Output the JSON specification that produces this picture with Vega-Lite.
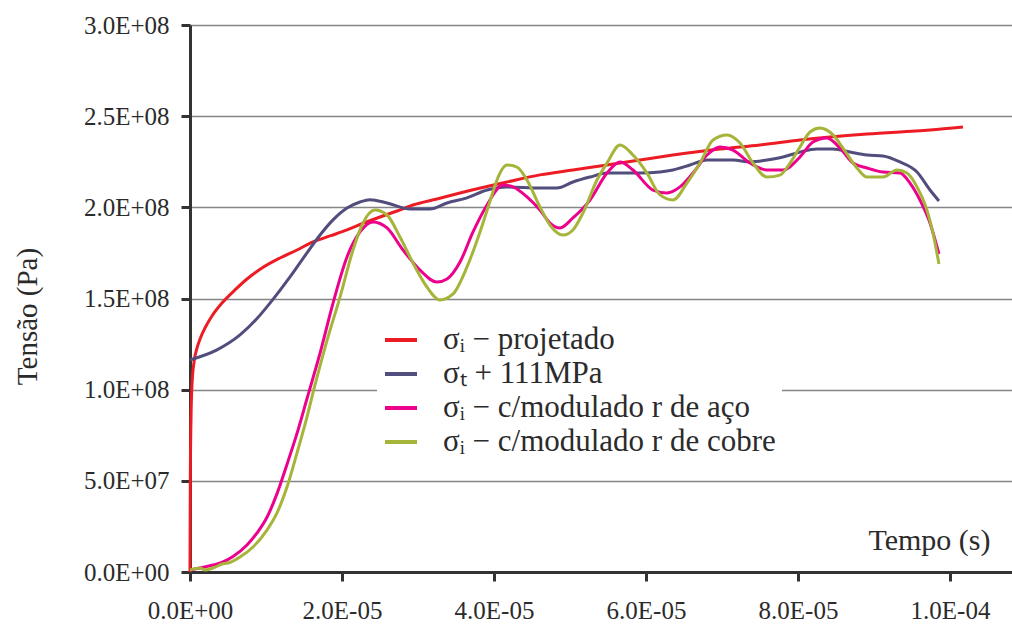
{
  "$schema": "https://vega.github.io/schema/vega-lite/v6.json",
  "width": 822,
  "height": 547,
  "autosize": {"type": "none"},
  "padding": {"left": 190, "top": 25, "right": 0, "bottom": 52},
  "background": "white",
  "config": {"view": {"stroke": null}, "font": "Liberation Serif"},
  "data": {
    "values": [
      {"serie": "projetado", "t": 0, "s": 0},
      {"serie": "projetado", "t": 0.004e-5, "s": 0.505e8},
      {"serie": "projetado", "t": 0.013e-5, "s": 0.834e8},
      {"serie": "projetado", "t": 0.026e-5, "s": 1.026e8},
      {"serie": "projetado", "t": 0.053e-5, "s": 1.152e8},
      {"serie": "projetado", "t": 0.092e-5, "s": 1.228e8},
      {"serie": "projetado", "t": 0.132e-5, "s": 1.278e8},
      {"serie": "projetado", "t": 0.197e-5, "s": 1.338e8},
      {"serie": "projetado", "t": 0.289e-5, "s": 1.404e8},
      {"serie": "projetado", "t": 0.421e-5, "s": 1.475e8},
      {"serie": "projetado", "t": 0.592e-5, "s": 1.547e8},
      {"serie": "projetado", "t": 0.75e-5, "s": 1.607e8},
      {"serie": "projetado", "t": 0.947e-5, "s": 1.667e8},
      {"serie": "projetado", "t": 1.184e-5, "s": 1.722e8},
      {"serie": "projetado", "t": 1.408e-5, "s": 1.766e8},
      {"serie": "projetado", "t": 1.618e-5, "s": 1.81e8},
      {"serie": "projetado", "t": 1.842e-5, "s": 1.843e8},
      {"serie": "projetado", "t": 2.066e-5, "s": 1.876e8},
      {"serie": "projetado", "t": 2.289e-5, "s": 1.914e8},
      {"serie": "projetado", "t": 2.5e-5, "s": 1.947e8},
      {"serie": "projetado", "t": 2.724e-5, "s": 1.98e8},
      {"serie": "projetado", "t": 2.934e-5, "s": 2.013e8},
      {"serie": "projetado", "t": 3.25e-5, "s": 2.046e8},
      {"serie": "projetado", "t": 3.553e-5, "s": 2.079e8},
      {"serie": "projetado", "t": 4.171e-5, "s": 2.139e8},
      {"serie": "projetado", "t": 4.605e-5, "s": 2.178e8},
      {"serie": "projetado", "t": 5.039e-5, "s": 2.205e8},
      {"serie": "projetado", "t": 5.487e-5, "s": 2.232e8},
      {"serie": "projetado", "t": 5.921e-5, "s": 2.26e8},
      {"serie": "projetado", "t": 6.355e-5, "s": 2.287e8},
      {"serie": "projetado", "t": 6.974e-5, "s": 2.32e8},
      {"serie": "projetado", "t": 7.5e-5, "s": 2.342e8},
      {"serie": "projetado", "t": 8.026e-5, "s": 2.369e8},
      {"serie": "projetado", "t": 8.908e-5, "s": 2.402e8},
      {"serie": "projetado", "t": 9.737e-5, "s": 2.424e8},
      {"serie": "projetado", "t": 10.171e-5, "s": 2.441e8},

      {"serie": "sigma_t", "t": 0, "s": 1.163e8},
      {"serie": "sigma_t", "t": 0.355e-5, "s": 1.218e8},
      {"serie": "sigma_t", "t": 0.658e-5, "s": 1.3e8},
      {"serie": "sigma_t", "t": 0.882e-5, "s": 1.39e8},
      {"serie": "sigma_t", "t": 1.092e-5, "s": 1.495e8},
      {"serie": "sigma_t", "t": 1.316e-5, "s": 1.618e8},
      {"serie": "sigma_t", "t": 1.539e-5, "s": 1.75e8},
      {"serie": "sigma_t", "t": 1.711e-5, "s": 1.848e8},
      {"serie": "sigma_t", "t": 1.882e-5, "s": 1.931e8},
      {"serie": "sigma_t", "t": 2.066e-5, "s": 1.996e8},
      {"serie": "sigma_t", "t": 2.237e-5, "s": 2.029e8},
      {"serie": "sigma_t", "t": 2.368e-5, "s": 2.042e8},
      {"serie": "sigma_t", "t": 2.592e-5, "s": 2.024e8},
      {"serie": "sigma_t", "t": 2.895e-5, "s": 1.991e8},
      {"serie": "sigma_t", "t": 3.158e-5, "s": 1.991e8},
      {"serie": "sigma_t", "t": 3.382e-5, "s": 2.024e8},
      {"serie": "sigma_t", "t": 3.645e-5, "s": 2.052e8},
      {"serie": "sigma_t", "t": 3.908e-5, "s": 2.095e8},
      {"serie": "sigma_t", "t": 4.171e-5, "s": 2.112e8},
      {"serie": "sigma_t", "t": 4.605e-5, "s": 2.106e8},
      {"serie": "sigma_t", "t": 4.829e-5, "s": 2.106e8},
      {"serie": "sigma_t", "t": 5.039e-5, "s": 2.139e8},
      {"serie": "sigma_t", "t": 5.263e-5, "s": 2.166e8},
      {"serie": "sigma_t", "t": 5.487e-5, "s": 2.188e8},
      {"serie": "sigma_t", "t": 5.921e-5, "s": 2.188e8},
      {"serie": "sigma_t", "t": 6.184e-5, "s": 2.194e8},
      {"serie": "sigma_t", "t": 6.355e-5, "s": 2.205e8},
      {"serie": "sigma_t", "t": 6.579e-5, "s": 2.232e8},
      {"serie": "sigma_t", "t": 6.803e-5, "s": 2.26e8},
      {"serie": "sigma_t", "t": 7.145e-5, "s": 2.26e8},
      {"serie": "sigma_t", "t": 7.368e-5, "s": 2.249e8},
      {"serie": "sigma_t", "t": 7.592e-5, "s": 2.26e8},
      {"serie": "sigma_t", "t": 7.803e-5, "s": 2.276e8},
      {"serie": "sigma_t", "t": 8.026e-5, "s": 2.303e8},
      {"serie": "sigma_t", "t": 8.25e-5, "s": 2.32e8},
      {"serie": "sigma_t", "t": 8.461e-5, "s": 2.32e8},
      {"serie": "sigma_t", "t": 8.684e-5, "s": 2.303e8},
      {"serie": "sigma_t", "t": 8.908e-5, "s": 2.287e8},
      {"serie": "sigma_t", "t": 9.118e-5, "s": 2.282e8},
      {"serie": "sigma_t", "t": 9.342e-5, "s": 2.249e8},
      {"serie": "sigma_t", "t": 9.566e-5, "s": 2.194e8},
      {"serie": "sigma_t", "t": 9.737e-5, "s": 2.095e8},
      {"serie": "sigma_t", "t": 9.855e-5, "s": 2.035e8},

      {"serie": "aco", "t": 0, "s": 0.011e8},
      {"serie": "aco", "t": 0.132e-5, "s": 0.022e8},
      {"serie": "aco", "t": 0.303e-5, "s": 0.038e8},
      {"serie": "aco", "t": 0.434e-5, "s": 0.055e8},
      {"serie": "aco", "t": 0.566e-5, "s": 0.085e8},
      {"serie": "aco", "t": 0.75e-5, "s": 0.148e8},
      {"serie": "aco", "t": 0.882e-5, "s": 0.214e8},
      {"serie": "aco", "t": 1.013e-5, "s": 0.3e8},
      {"serie": "aco", "t": 1.145e-5, "s": 0.43e8},
      {"serie": "aco", "t": 1.276e-5, "s": 0.59e8},
      {"serie": "aco", "t": 1.408e-5, "s": 0.76e8},
      {"serie": "aco", "t": 1.539e-5, "s": 0.95e8},
      {"serie": "aco", "t": 1.711e-5, "s": 1.2e8},
      {"serie": "aco", "t": 1.882e-5, "s": 1.475e8},
      {"serie": "aco", "t": 2.066e-5, "s": 1.728e8},
      {"serie": "aco", "t": 2.237e-5, "s": 1.865e8},
      {"serie": "aco", "t": 2.408e-5, "s": 1.92e8},
      {"serie": "aco", "t": 2.592e-5, "s": 1.887e8},
      {"serie": "aco", "t": 2.803e-5, "s": 1.766e8},
      {"serie": "aco", "t": 3.026e-5, "s": 1.656e8},
      {"serie": "aco", "t": 3.25e-5, "s": 1.59e8},
      {"serie": "aco", "t": 3.382e-5, "s": 1.607e8},
      {"serie": "aco", "t": 3.553e-5, "s": 1.7e8},
      {"serie": "aco", "t": 3.724e-5, "s": 1.865e8},
      {"serie": "aco", "t": 3.908e-5, "s": 2.013e8},
      {"serie": "aco", "t": 4.118e-5, "s": 2.122e8},
      {"serie": "aco", "t": 4.25e-5, "s": 2.112e8},
      {"serie": "aco", "t": 4.434e-5, "s": 2.057e8},
      {"serie": "aco", "t": 4.605e-5, "s": 1.985e8},
      {"serie": "aco", "t": 4.737e-5, "s": 1.914e8},
      {"serie": "aco", "t": 4.868e-5, "s": 1.887e8},
      {"serie": "aco", "t": 5.039e-5, "s": 1.942e8},
      {"serie": "aco", "t": 5.263e-5, "s": 2.04e8},
      {"serie": "aco", "t": 5.487e-5, "s": 2.188e8},
      {"serie": "aco", "t": 5.658e-5, "s": 2.249e8},
      {"serie": "aco", "t": 5.829e-5, "s": 2.205e8},
      {"serie": "aco", "t": 6.092e-5, "s": 2.095e8},
      {"serie": "aco", "t": 6.276e-5, "s": 2.079e8},
      {"serie": "aco", "t": 6.447e-5, "s": 2.112e8},
      {"serie": "aco", "t": 6.618e-5, "s": 2.188e8},
      {"serie": "aco", "t": 6.803e-5, "s": 2.287e8},
      {"serie": "aco", "t": 6.974e-5, "s": 2.331e8},
      {"serie": "aco", "t": 7.145e-5, "s": 2.314e8},
      {"serie": "aco", "t": 7.368e-5, "s": 2.243e8},
      {"serie": "aco", "t": 7.592e-5, "s": 2.205e8},
      {"serie": "aco", "t": 7.803e-5, "s": 2.205e8},
      {"serie": "aco", "t": 8.026e-5, "s": 2.276e8},
      {"serie": "aco", "t": 8.197e-5, "s": 2.358e8},
      {"serie": "aco", "t": 8.382e-5, "s": 2.38e8},
      {"serie": "aco", "t": 8.553e-5, "s": 2.325e8},
      {"serie": "aco", "t": 8.724e-5, "s": 2.243e8},
      {"serie": "aco", "t": 8.908e-5, "s": 2.216e8},
      {"serie": "aco", "t": 9.118e-5, "s": 2.194e8},
      {"serie": "aco", "t": 9.342e-5, "s": 2.188e8},
      {"serie": "aco", "t": 9.474e-5, "s": 2.133e8},
      {"serie": "aco", "t": 9.605e-5, "s": 2.04e8},
      {"serie": "aco", "t": 9.737e-5, "s": 1.914e8},
      {"serie": "aco", "t": 9.855e-5, "s": 1.744e8},

      {"serie": "cobre", "t": 0, "s": 0.011e8},
      {"serie": "cobre", "t": 0.132e-5, "s": 0.022e8},
      {"serie": "cobre", "t": 0.197e-5, "s": 0.011e8},
      {"serie": "cobre", "t": 0.303e-5, "s": 0.022e8},
      {"serie": "cobre", "t": 0.434e-5, "s": 0.045e8},
      {"serie": "cobre", "t": 0.526e-5, "s": 0.052e8},
      {"serie": "cobre", "t": 0.658e-5, "s": 0.082e8},
      {"serie": "cobre", "t": 0.829e-5, "s": 0.137e8},
      {"serie": "cobre", "t": 1.013e-5, "s": 0.23e8},
      {"serie": "cobre", "t": 1.145e-5, "s": 0.324e8},
      {"serie": "cobre", "t": 1.276e-5, "s": 0.466e8},
      {"serie": "cobre", "t": 1.408e-5, "s": 0.653e8},
      {"serie": "cobre", "t": 1.539e-5, "s": 0.85e8},
      {"serie": "cobre", "t": 1.645e-5, "s": 1.026e8},
      {"serie": "cobre", "t": 1.803e-5, "s": 1.27e8},
      {"serie": "cobre", "t": 1.974e-5, "s": 1.508e8},
      {"serie": "cobre", "t": 2.145e-5, "s": 1.766e8},
      {"serie": "cobre", "t": 2.276e-5, "s": 1.914e8},
      {"serie": "cobre", "t": 2.434e-5, "s": 1.985e8},
      {"serie": "cobre", "t": 2.592e-5, "s": 1.958e8},
      {"serie": "cobre", "t": 2.763e-5, "s": 1.837e8},
      {"serie": "cobre", "t": 2.934e-5, "s": 1.695e8},
      {"serie": "cobre", "t": 3.118e-5, "s": 1.563e8},
      {"serie": "cobre", "t": 3.289e-5, "s": 1.492e8},
      {"serie": "cobre", "t": 3.461e-5, "s": 1.525e8},
      {"serie": "cobre", "t": 3.645e-5, "s": 1.673e8},
      {"serie": "cobre", "t": 3.816e-5, "s": 1.865e8},
      {"serie": "cobre", "t": 3.974e-5, "s": 2.068e8},
      {"serie": "cobre", "t": 4.039e-5, "s": 2.15e8},
      {"serie": "cobre", "t": 4.171e-5, "s": 2.232e8},
      {"serie": "cobre", "t": 4.303e-5, "s": 2.221e8},
      {"serie": "cobre", "t": 4.434e-5, "s": 2.15e8},
      {"serie": "cobre", "t": 4.605e-5, "s": 2.002e8},
      {"serie": "cobre", "t": 4.737e-5, "s": 1.903e8},
      {"serie": "cobre", "t": 4.908e-5, "s": 1.848e8},
      {"serie": "cobre", "t": 5.039e-5, "s": 1.876e8},
      {"serie": "cobre", "t": 5.171e-5, "s": 1.969e8},
      {"serie": "cobre", "t": 5.355e-5, "s": 2.15e8},
      {"serie": "cobre", "t": 5.487e-5, "s": 2.243e8},
      {"serie": "cobre", "t": 5.658e-5, "s": 2.342e8},
      {"serie": "cobre", "t": 5.829e-5, "s": 2.287e8},
      {"serie": "cobre", "t": 6.013e-5, "s": 2.188e8},
      {"serie": "cobre", "t": 6.184e-5, "s": 2.068e8},
      {"serie": "cobre", "t": 6.355e-5, "s": 2.04e8},
      {"serie": "cobre", "t": 6.539e-5, "s": 2.133e8},
      {"serie": "cobre", "t": 6.711e-5, "s": 2.243e8},
      {"serie": "cobre", "t": 6.882e-5, "s": 2.369e8},
      {"serie": "cobre", "t": 7.066e-5, "s": 2.397e8},
      {"serie": "cobre", "t": 7.237e-5, "s": 2.353e8},
      {"serie": "cobre", "t": 7.408e-5, "s": 2.243e8},
      {"serie": "cobre", "t": 7.592e-5, "s": 2.166e8},
      {"serie": "cobre", "t": 7.763e-5, "s": 2.177e8},
      {"serie": "cobre", "t": 7.895e-5, "s": 2.243e8},
      {"serie": "cobre", "t": 8.026e-5, "s": 2.331e8},
      {"serie": "cobre", "t": 8.158e-5, "s": 2.413e8},
      {"serie": "cobre", "t": 8.289e-5, "s": 2.435e8},
      {"serie": "cobre", "t": 8.461e-5, "s": 2.397e8},
      {"serie": "cobre", "t": 8.592e-5, "s": 2.325e8},
      {"serie": "cobre", "t": 8.776e-5, "s": 2.216e8},
      {"serie": "cobre", "t": 8.908e-5, "s": 2.166e8},
      {"serie": "cobre", "t": 9.118e-5, "s": 2.166e8},
      {"serie": "cobre", "t": 9.303e-5, "s": 2.205e8},
      {"serie": "cobre", "t": 9.434e-5, "s": 2.188e8},
      {"serie": "cobre", "t": 9.566e-5, "s": 2.112e8},
      {"serie": "cobre", "t": 9.697e-5, "s": 1.985e8},
      {"serie": "cobre", "t": 9.776e-5, "s": 1.859e8},
      {"serie": "cobre", "t": 9.855e-5, "s": 1.689e8}
    ]
  },
  "mark": {"type": "line", "strokeWidth": 3, "interpolate": "monotone"},
  "encoding": {
    "x": {
      "field": "t",
      "type": "quantitative",
      "scale": {"domain": [0, 1.0816e-4], "nice": false, "zero": false},
      "axis": {
        "values": [0, 2e-5, 4e-5, 6e-5, 8e-5, 1e-4],
        "labelExpr": "split(format(datum.value,'.1e'),'e')[0] + 'E' + substring(split(format(datum.value,'.1e'),'e')[1],0,1) + (length(split(format(datum.value,'.1e'),'e')[1]) < 3 ? '0' : '') + substring(split(format(datum.value,'.1e'),'e')[1],1)",
        "title": "Tempo (s)",
        "grid": false,
        "domainColor": "#333333",
        "domainWidth": 3,
        "tickColor": "#333333",
        "tickWidth": 3,
        "tickSize": 9,
        "labelFont": "Liberation Serif",
        "labelFontSize": 25,
        "labelColor": "#2b2b2b",
        "labelPadding": 17,
        "labelFlush": false,
        "labelOverlap": false,
        "titleFont": "Liberation Serif",
        "titleFontSize": 30,
        "titleFontWeight": "normal",
        "titleColor": "#2b2b2b",
        "titleX": 739,
        "titleY": -23,
        "titleAlign": "center",
        "titleBaseline": "alphabetic"
      }
    },
    "y": {
      "field": "s",
      "type": "quantitative",
      "scale": {"domain": [0, 3e8], "nice": false},
      "axis": {
        "values": [0, 5e7, 1e8, 1.5e8, 2e8, 2.5e8, 3e8],
        "labelExpr": "split(format(datum.value,'.1e'),'e')[0] + 'E' + substring(split(format(datum.value,'.1e'),'e')[1],0,1) + (length(split(format(datum.value,'.1e'),'e')[1]) < 3 ? '0' : '') + substring(split(format(datum.value,'.1e'),'e')[1],1)",
        "title": "Tensão (Pa)",
        "grid": true,
        "gridColor": "#858585",
        "gridWidth": 1.5,
        "domainColor": "#333333",
        "domainWidth": 3,
        "tickColor": "#333333",
        "tickWidth": 3,
        "tickSize": 9,
        "labelFont": "Liberation Serif",
        "labelFontSize": 25,
        "labelColor": "#2b2b2b",
        "labelPadding": 12,
        "labelOverlap": false,
        "titleFont": "Liberation Serif",
        "titleFontSize": 29,
        "titleFontWeight": "normal",
        "titleColor": "#2b2b2b",
        "titleAngle": -90,
        "titleX": -154,
        "titleY": 291,
        "titleAlign": "center",
        "titleBaseline": "alphabetic"
      }
    },
    "color": {
      "field": "serie",
      "type": "nominal",
      "sort": null,
      "scale": {
        "domain": ["projetado", "sigma_t", "aco", "cobre"],
        "range": ["#ed1c24", "#514d7c", "#ec008c", "#a6b43a"]
      },
      "legend": {
        "orient": "none",
        "legendX": 187,
        "legendY": 291,
        "title": null,
        "fillColor": "white",
        "padding": 6,
        "symbolType": "stroke",
        "symbolSize": 1024,
        "symbolStrokeWidth": 4,
        "labelFont": "Liberation Serif",
        "labelFontSize": 31,
        "labelColor": "#2b2b2b",
        "labelOffset": 24,
        "labelLimit": 500,
        "rowPadding": 1,
        "labelExpr": "datum.label == 'projetado' ? 'σᵢ − projetado' : datum.label == 'sigma_t' ? 'σₜ + 111MPa' : datum.label == 'aco' ? 'σᵢ − c/modulado r de aço' : 'σᵢ − c/modulado r de cobre'"
      }
    }
  }
}
